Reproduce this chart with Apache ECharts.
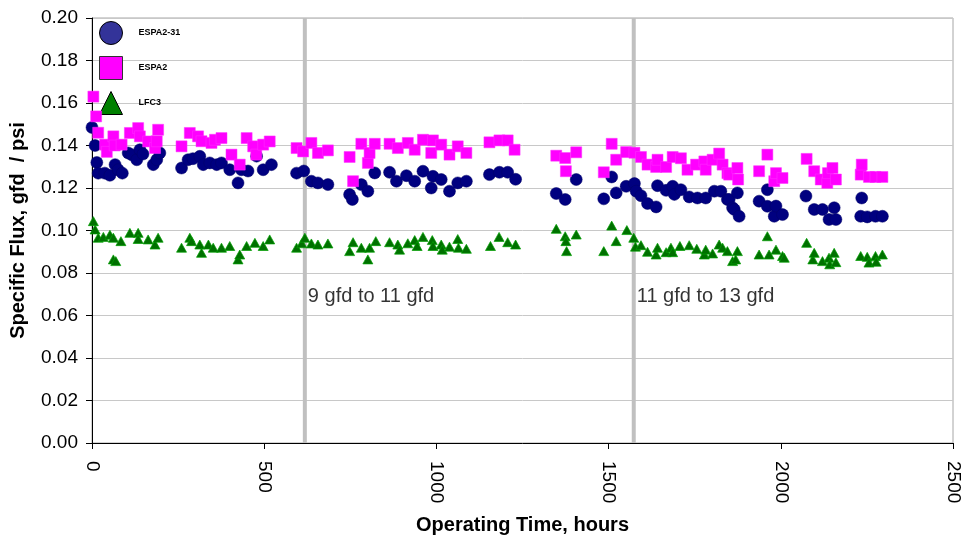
<!DOCTYPE html>
<html>
<head>
<meta charset="utf-8">
<script src="https://cdn.jsdelivr.net/npm/echarts@6/dist/echarts.min.js"></script>
<style>html,body{margin:0;padding:0;background:#fff}#c{width:963px;height:540px}</style>
</head>
<body>
<div id="c"></div>
<script>
// ---- data ----
const espa231Hours = [0,9,14,18,37,52,67,76,88,105,115,130,139,148,178,188,197,260,279,293,313,323,342,362,376,400,424,434,453,478,497,521,594,615,637,656,685,748,756,782,801,821,864,884,913,937,961,985,990,1014,1038,1062,1087,1154,1183,1207,1230,1348,1374,1406,1486,1509,1522,1551,1575,1580,1594,1613,1638,1642,1667,1686,1691,1710,1734,1758,1782,1807,1826,1845,1850,1860,1865,1874,1879,1937,1961,1961,1981,1986,2005,2073,2097,2121,2140,2155,2160,2232,2235,2251,2275,2295];
const espa231Flux = [0.1485,0.140,0.132,0.127,0.127,0.126,0.131,0.1286,0.127,0.1365,0.1357,0.1333,0.138,0.136,0.131,0.1333,0.1365,0.1294,0.1333,0.1338,0.1349,0.131,0.1318,0.131,0.1318,0.1286,0.1224,0.1286,0.128,0.135,0.1286,0.131,0.127,0.128,0.1232,0.1224,0.1216,0.1169,0.1146,0.1216,0.1185,0.1271,0.1274,0.1232,0.1258,0.1232,0.1279,0.120,0.1255,0.124,0.1185,0.1224,0.1232,0.1263,0.1274,0.1274,0.1241,0.1174,0.1146,0.124,0.1149,0.1252,0.1177,0.1208,0.1221,0.1185,0.1164,0.1127,0.1111,0.1211,0.1189,0.1208,0.117,0.1192,0.1158,0.1153,0.1153,0.1185,0.1185,0.1146,0.1146,0.1107,0.1099,0.1177,0.1067,0.1138,0.1192,0.1114,0.1067,0.1115,0.1075,0.1162,0.1099,0.1099,0.1052,0.1107,0.1052,0.1067,0.1153,0.1064,0.1067,0.1067];

const espa2Hours = [4,12,18,38,43,62,66,86,110,134,139,163,183,188,192,260,284,308,318,347,357,376,405,429,449,468,477,497,516,594,613,637,656,685,748,758,782,801,806,821,864,888,917,937,961,985,990,1014,1038,1062,1087,1154,1183,1207,1227,1348,1374,1376,1406,1486,1509,1522,1551,1575,1594,1613,1638,1642,1667,1686,1710,1729,1754,1778,1782,1802,1821,1831,1845,1850,1874,1876,1937,1961,1981,1986,2005,2075,2097,2116,2135,2137,2150,2160,2232,2235,2256,2275,2295];
const espa2Flux = [0.163,0.1537,0.146,0.1404,0.137,0.1443,0.140,0.1404,0.1459,0.1482,0.1443,0.1419,0.1388,0.142,0.1474,0.1396,0.1459,0.1443,0.142,0.1412,0.1427,0.1435,0.1357,0.131,0.1435,0.1396,0.1357,0.1404,0.1419,0.1388,0.1372,0.1412,0.1365,0.1377,0.1346,0.1232,0.1408,0.1318,0.1365,0.1408,0.1408,0.1388,0.1412,0.138,0.1427,0.1365,0.1424,0.1404,0.1357,0.1396,0.1365,0.1415,0.1424,0.1424,0.138,0.1352,0.1341,0.1279,0.1368,0.1274,0.1408,0.1333,0.1369,0.1366,0.1346,0.131,0.1299,0.1333,0.1299,0.1346,0.134,0.1286,0.131,0.1325,0.1286,0.1333,0.1362,0.131,0.127,0.1263,0.1294,0.124,0.1279,0.1357,0.1232,0.127,0.1247,0.1337,0.1279,0.124,0.1224,0.127,0.1294,0.124,0.1263,0.131,0.1252,0.1252,0.1252];

const lfc3Hours = [4,9,18,33,52,62,62,69,84,110,134,134,163,183,192,260,284,289,313,318,338,352,376,400,424,429,449,473,497,516,594,609,618,637,656,685,748,758,782,801,806,824,864,888,893,917,937,944,961,988,990,1014,1017,1038,1062,1064,1087,1157,1182,1207,1230,1348,1374,1376,1378,1406,1486,1509,1522,1553,1573,1578,1594,1613,1638,1642,1667,1681,1686,1707,1734,1756,1778,1782,1802,1821,1831,1845,1860,1869,1874,1937,1961,1966,1986,2005,2010,2075,2093,2097,2121,2140,2142,2155,2160,2232,2251,2256,2275,2277,2295];
const lfc3Flux = [0.1044,0.1005,0.0966,0.097,0.098,0.0966,0.0864,0.0856,0.095,0.0989,0.0989,0.096,0.0958,0.0934,0.0966,0.0919,0.0966,0.095,0.0934,0.0895,0.0934,0.0919,0.0919,0.0927,0.0864,0.0887,0.0927,0.0942,0.0927,0.0958,0.0919,0.094,0.0966,0.0939,0.0934,0.0939,0.0903,0.0945,0.0919,0.0864,0.0919,0.095,0.0945,0.0934,0.091,0.094,0.0955,0.0927,0.097,0.0955,0.0927,0.0934,0.091,0.0924,0.096,0.0919,0.0914,0.0927,0.097,0.0945,0.0934,0.1008,0.0973,0.095,0.0903,0.0981,0.0903,0.1023,0.095,0.1002,0.0966,0.0924,0.0931,0.090,0.0887,0.0919,0.0898,0.0919,0.0898,0.0927,0.0931,0.0914,0.0887,0.091,0.0892,0.0934,0.0919,0.0903,0.0856,0.0864,0.0903,0.0887,0.0973,0.0887,0.091,0.088,0.0872,0.0942,0.0864,0.0895,0.0856,0.0872,0.0841,0.0895,0.0851,0.088,0.0876,0.0849,0.088,0.0853,0.0887];

const phaseChangeHours = [618, 1573];
const phaseLabels = ['9 gfd to 11 gfd', '11 gfd to 13 gfd'];
const phaseLabelFlux = [0.069, 0.069];
const xTicks = {min: 0, max: 2500, interval: 500};
const yTicks = {min: 0, max: 0.20, interval: 0.02};

// ---- chart ----
const zip = (a, b) => a.map((v, i) => [v, b[i]]);
const font = '"Liberation Sans", Arial, sans-serif';
const chart = echarts.init(document.getElementById('c'), null, {renderer: 'canvas'});

const phaseSeries = phaseChangeHours.map((h, i) => ({
  type: 'line', name: 'phase' + i, silent: true, z: 1,
  data: [[h, yTicks.min], [h, yTicks.max]],
  symbol: 'none',
  lineStyle: {color: '#c0c0c0', width: 4},
  animation: false
}));

chart.setOption({
  animation: false,
  backgroundColor: '#ffffff',
  grid: {left: 92, right: 10, top: 18, bottom: 96, show: true, borderColor: '#a6a6a6', borderWidth: 1},
  legend: {
    orient: 'vertical', left: 94, top: 16, itemGap: 11, itemWidth: 23, itemHeight: 23,
    textStyle: {fontFamily: font, fontWeight: 'bold', fontSize: 9, color: '#000', padding: [0, 0, 0, 11]},
    data: [
      {name: 'ESPA2-31', icon: 'circle', itemStyle: {color: '#333399', borderColor: '#000', borderWidth: 1}},
      {name: 'ESPA2', icon: 'rect', itemStyle: {color: '#ff00ff', borderColor: '#333', borderWidth: 1}},
      {name: 'LFC3', icon: 'triangle', itemStyle: {color: '#008000', borderColor: '#000', borderWidth: 1}}
    ]
  },
  xAxis: {
    type: 'value', min: xTicks.min, max: xTicks.max, interval: xTicks.interval,
    name: 'Operating Time, hours', nameLocation: 'middle', nameGap: 72,
    nameTextStyle: {fontFamily: font, fontWeight: 'bold', fontSize: 20, color: '#000'},
    axisLine: {show: true, lineStyle: {color: '#000', width: 1}},
    axisTick: {show: true, length: 6, lineStyle: {color: '#000'}},
    axisLabel: {rotate: -90, margin: 18, fontFamily: font, fontSize: 19, color: '#000', formatter: v => String(v)},
    splitLine: {show: false}
  },
  yAxis: {
    type: 'value', min: yTicks.min, max: yTicks.max, interval: yTicks.interval,
    name: 'Specific Flux, gfd  / psi', nameLocation: 'middle', nameGap: 64,
    nameTextStyle: {fontFamily: font, fontWeight: 'bold', fontSize: 20, color: '#000'},
    axisLine: {show: true, lineStyle: {color: '#000', width: 1}},
    axisTick: {show: true, length: 6, lineStyle: {color: '#000'}},
    axisLabel: {margin: 14, fontFamily: font, fontSize: 19, color: '#000', formatter: v => v.toFixed(2)},
    splitLine: {show: true, lineStyle: {color: '#c8c8c8', width: 1}}
  },
  series: phaseSeries.concat([
    {
      type: 'scatter', name: 'ESPA2-31', z: 3,
      data: zip(espa231Hours, espa231Flux),
      symbol: 'circle', symbolSize: 12,
      itemStyle: {color: '#000080', borderColor: '#000066', borderWidth: 0.5, opacity: 1}
    },
    {
      type: 'scatter', name: 'ESPA2', z: 4,
      data: zip(espa2Hours, espa2Flux),
      symbol: 'rect', symbolSize: 11,
      itemStyle: {color: '#ff00ff', borderColor: '#ff33ff', borderWidth: 0.5, opacity: 1}
    },
    {
      type: 'scatter', name: 'LFC3', z: 5,
      data: zip(lfc3Hours, lfc3Flux),
      symbol: 'triangle', symbolSize: [10, 9],
      itemStyle: {color: '#007000', borderColor: '#00a000', borderWidth: 0.7, opacity: 1}
    },
    {
      type: 'scatter', name: 'labels', z: 6, silent: true,
      data: phaseChangeHours.map((h, i) => ({value: [h, phaseLabelFlux[i]], label: {formatter: phaseLabels[i]}})),
      symbolSize: 0,
      label: {show: true, position: 'right', distance: 3, fontFamily: font, fontSize: 20, color: '#000'}
    }
  ])
});
</script>
</body>
</html>
